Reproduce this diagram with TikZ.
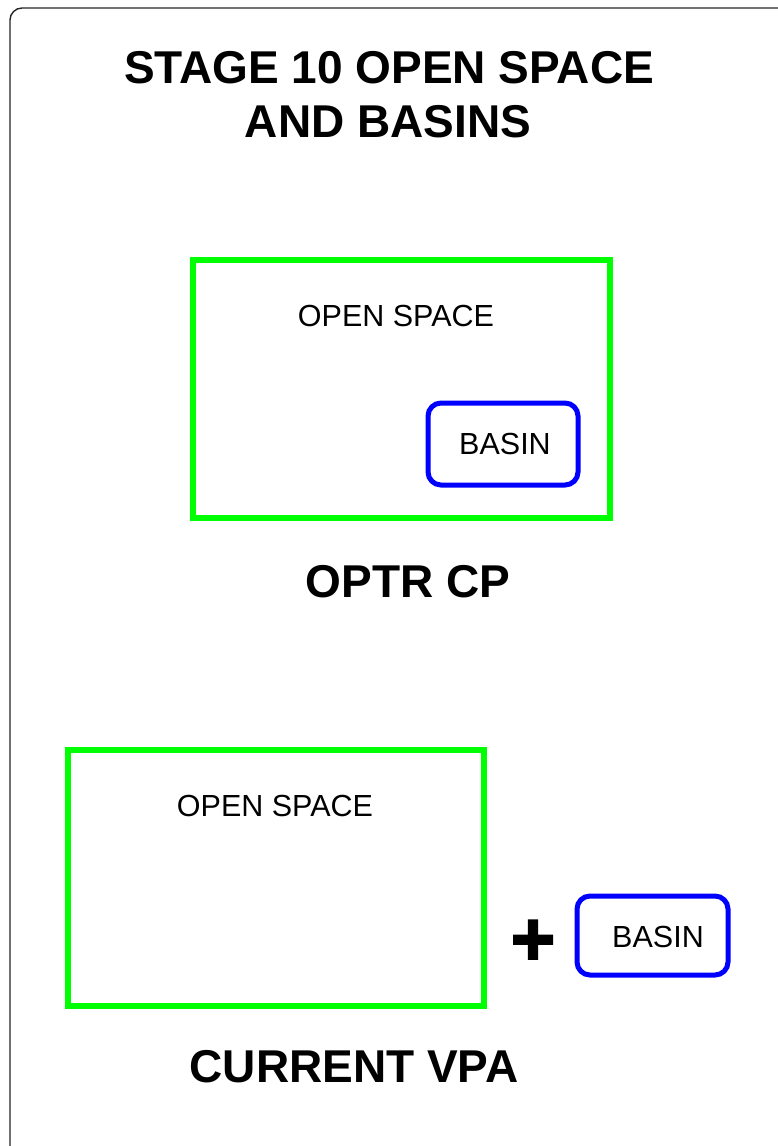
\documentclass[tikz,border=0pt]{standalone}
\usepackage{fontspec}
\setmainfont{Liberation Sans}
\newfontfamily\plusfont[FakeBold=2.5]{Liberation Sans Bold}
\begin{document}
\begin{tikzpicture}[x=1pt,y=-1pt,
  framebox/.style={draw=black!85,line width=1.4pt,rounded corners=12pt},
  openbox/.style={draw={rgb,255:red,0;green,255;blue,0},line width=5.5pt,inner sep=0pt},
  basinbox/.style={draw={rgb,255:red,0;green,0;blue,255},line width=5pt,rounded corners=13pt},
  bigtxt/.style={anchor=base,inner sep=0pt,font=\fontsize{46}{54}\selectfont\bfseries},
  smalltxt/.style={anchor=base,inner sep=0pt,font=\fontsize{30.5}{36}\selectfont}]
\useasboundingbox (0,0) rectangle (778,1146);
\fill[white] (0,0) rectangle (778,1146);
% outer frame (only top-left part visible)
\draw[framebox] (800,8) -- (10,8) -- (10,1170);
% title
\node[bigtxt] (title1) at (389,83) {STAGE 10 OPEN SPACE};
\node[bigtxt] (title2) at (388,137) {AND BASINS};
% OPTR CP
\draw[openbox] (193,260) rectangle (610,518);
\node[smalltxt] (os1) at (396,326) {OPEN SPACE};
\draw[basinbox] (428,403) rectangle (578,485);
\node[smalltxt] (b1) at (505,454) {BASIN};
\node[bigtxt] (optr) at (408,597) {OPTR CP};
% CURRENT VPA
\draw[openbox] (68,750) rectangle (484,1006);
\node[smalltxt] (os2) at (275,816) {OPEN SPACE};
\node[anchor=base,inner sep=0pt,font=\fontsize{76}{76}\plusfont] (plus) at (533,965) {+};
\draw[basinbox] (577,896) rectangle (728,975);
\node[smalltxt] (b2) at (658,947) {BASIN};
\node[bigtxt] (vpa) at (354,1082) {CURRENT VPA};
\end{tikzpicture}
\end{document}
